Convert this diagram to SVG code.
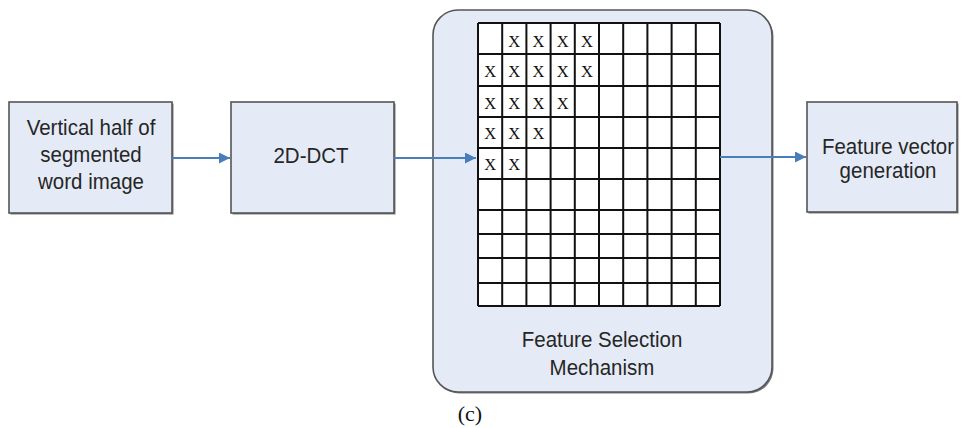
<svg xmlns="http://www.w3.org/2000/svg" width="961" height="428" viewBox="0 0 961 428">
  <style>
    .box { fill: #e5ebf6; stroke: #555; stroke-width: 1.6; }
    .shadow { fill: #7a7a7a; }
    .label { font-family: "Liberation Sans", Arial, sans-serif; font-size: 20.5px; fill: #262626; text-anchor: middle; }
    .cell { font-family: "Liberation Serif", "Times New Roman", serif; font-size: 16.5px; fill: #111; text-anchor: middle; }
    .grid { stroke: #111; stroke-width: 2; fill: none; }
    .conn { stroke: #4a7ebb; stroke-width: 2; fill: none; }
    .caption { font-family: "Liberation Serif", "Times New Roman", serif; font-size: 22px; fill: #111; text-anchor: middle; }
  </style>
  <defs>
    <marker id="arrow" viewBox="0 0 10 10" refX="10" refY="5" markerWidth="5.5" markerHeight="5.5" orient="auto" markerUnits="strokeWidth">
      <path d="M0,0 L10,5 L0,10 z" fill="#4a7ebb"/>
    </marker>
  </defs>

  <rect width="961" height="428" fill="#fff"/>

  <!-- input block -->
  <g id="input">
    <rect class="shadow" x="10.5" y="103.5" width="163" height="111"/>
    <rect class="box" x="9" y="102" width="163" height="111"/>
    <text class="label" transform="translate(91,135) scale(1,1.12)">Vertical half of</text>
    <text class="label" transform="translate(91,162) scale(1,1.12)">segmented</text>
    <text class="label" transform="translate(91,189) scale(1,1.12)">word image</text>
  </g>

  <!-- transform block -->
  <g id="dct">
    <rect class="shadow" x="232.5" y="103.5" width="163" height="111"/>
    <rect class="box" x="231" y="102" width="163" height="111"/>
    <text class="label" transform="translate(311,163) scale(1,1.12)">2D-DCT</text>
  </g>

  <!-- selection block with coefficient grid -->
  <g id="selection">
    <rect class="shadow" x="434.5" y="11.5" width="339" height="382" rx="25"/>
    <rect class="box" x="433" y="10" width="339" height="382" rx="25"/>
    <rect x="478" y="23" width="242" height="283" fill="#fff"/>
    <path class="grid" d="M478,23V306 M502.2,23V306 M526.4,23V306 M550.6,23V306 M574.8,23V306 M599,23V306 M623.2,23V306 M647.4,23V306 M671.6,23V306 M695.8,23V306 M720,23V306
      M478,23H720 M478,54H720 M478,86H720 M478,117H720 M478,148H720 M478,179H720 M478,210H720 M478,234H720 M478,258H720 M478,283H720 M478,306H720"/>
    <g>
      <text class="cell" x="514.3" y="47">X</text>
      <text class="cell" x="538.5" y="47">X</text>
      <text class="cell" x="562.7" y="47">X</text>
      <text class="cell" x="586.9" y="47">X</text>

      <text class="cell" x="490.1" y="77">X</text>
      <text class="cell" x="514.3" y="77">X</text>
      <text class="cell" x="538.5" y="77">X</text>
      <text class="cell" x="562.7" y="77">X</text>
      <text class="cell" x="586.9" y="77">X</text>

      <text class="cell" x="490.1" y="109">X</text>
      <text class="cell" x="514.3" y="109">X</text>
      <text class="cell" x="538.5" y="109">X</text>
      <text class="cell" x="562.7" y="109">X</text>

      <text class="cell" x="490.1" y="139">X</text>
      <text class="cell" x="514.3" y="139">X</text>
      <text class="cell" x="538.5" y="139">X</text>

      <text class="cell" x="490.1" y="170">X</text>
      <text class="cell" x="514.3" y="170">X</text>
    </g>
    <text class="label" transform="translate(602,347) scale(1,1.12)">Feature Selection</text>
    <text class="label" transform="translate(602,375) scale(1,1.12)">Mechanism</text>
  </g>

  <!-- output block -->
  <g id="output">
    <rect class="shadow" x="808.5" y="103.5" width="150" height="110"/>
    <rect class="box" x="807" y="102" width="150" height="110"/>
    <text class="label" transform="translate(888,154) scale(1,1.12)">Feature vector</text>
    <text class="label" transform="translate(888,178) scale(1,1.12)">generation</text>
  </g>

  <!-- connectors -->
  <g id="connectors">
    <path class="conn" d="M172,158H230" marker-end="url(#arrow)"/>
    <path class="conn" d="M394,158H476" marker-end="url(#arrow)"/>
    <path class="conn" d="M720,157H806" marker-end="url(#arrow)"/>
  </g>

  <text class="caption" x="470" y="421">(c)</text>
</svg>
